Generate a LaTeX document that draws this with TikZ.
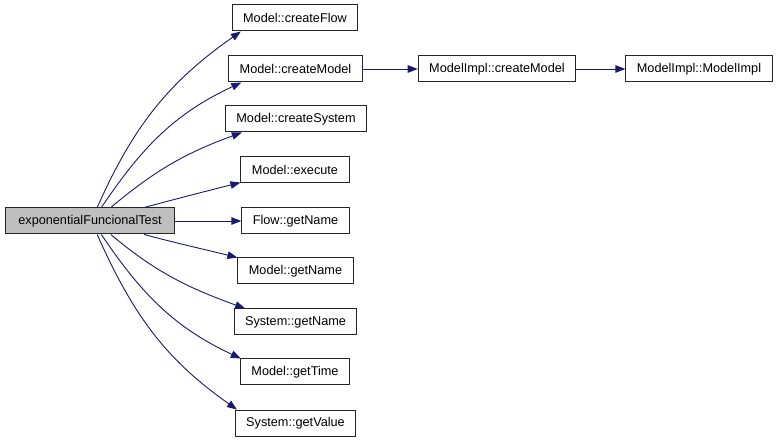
\documentclass[tikz,border=0pt]{standalone}
\usepackage{fontspec}
\setmainfont{Liberation Sans}
\usepackage{xcolor}
\usepackage{tikz}
\usetikzlibrary{arrows.meta}
\usetikzlibrary{positioning}
\definecolor{edgeblue}{HTML}{191970}
\begin{document}
\begin{tikzpicture}[x=1pt,y=1pt,
	fn/.style={draw=black!85,line width=1pt,inner xsep=11pt,inner ysep=0pt,minimum height=26pt,font=\fontsize{12.7}{15}\selectfont},
	call/.style={draw=edgeblue,line width=0.9pt,-{Triangle[length=10pt,width=7.5pt]},fill=none}]
	\useasboundingbox (0,0) rectangle (779,-443);
	
	\node[fn,fill=black!25,inner xsep=12.5pt] (test) at (90,-221) {exponentialFuncionalTest};
	
	\node[fn] (cflow) at (295,-18) {Model::createFlow};
	\node[fn] (cmodel) at (295.5,-69) {Model::createModel};
	\node[fn] (csys) at (296,-119) {Model::createSystem};
	\node[fn] (exec) at (295,-170) {Model::execute};
	\node[fn] (fname) at (295.5,-221) {Flow::getName};
	\node[fn] (mname) at (295.5,-271) {Model::getName};
	\node[fn] (sname) at (295.5,-322) {System::getName};
	\node[fn] (mtime) at (295,-372) {Model::getTime};
	\node[fn] (svalue) at (295.5,-423) {System::getValue};
	
	\node[fn] (implcm) at (497,-69) {ModelImpl::createModel};
	\node[fn] (implctor) at (699,-69) {ModelImpl::ModelImpl};
	
	\draw[call] (test.62) to[out=66,in=-145] (cflow.194);
	\draw[call] (test.50) to[out=56,in=-155] (cmodel.194);
	\draw[call] (test.33) to[out=40,in=-160] (csys.194);
	\draw[call] (test.14) to[out=15,in=-166] (exec.193);
	\draw[call] (test.east) -- (fname.west);
	\draw[call] (test.-14) to[out=-15,in=166] (mname.167);
	\draw[call] (test.-33) to[out=-40,in=160] (sname.165);
	\draw[call] (test.-50) to[out=-56,in=155] (mtime.166);
	\draw[call] (test.-62) to[out=-66,in=145] (svalue.167);
	
	\draw[call] (cmodel.east) -- (implcm.west);
	\draw[call] (implcm.east) -- (implctor.west);
	
\end{tikzpicture}
\end{document}
